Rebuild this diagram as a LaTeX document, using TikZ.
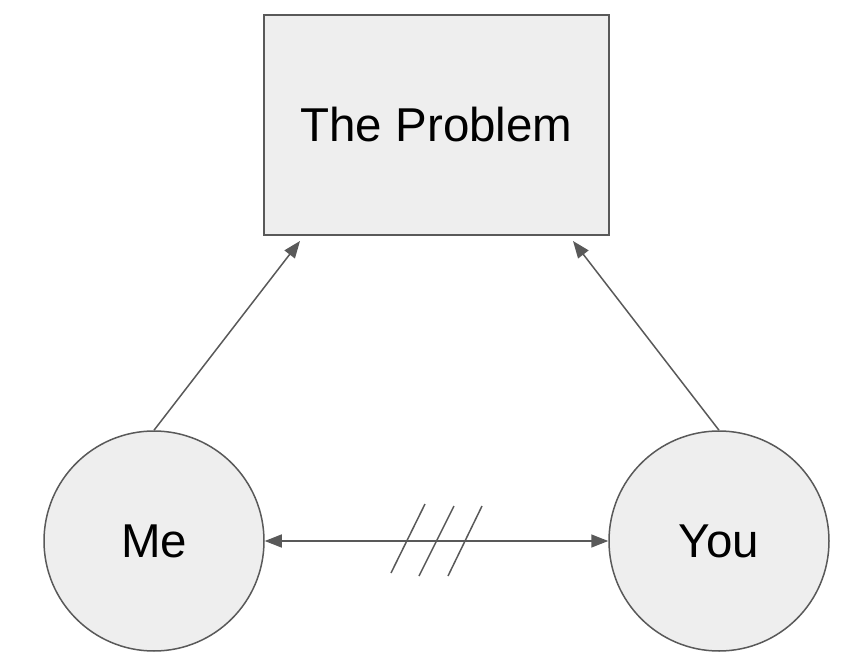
\documentclass[tikz,border=0pt]{standalone}
\usepackage{fontspec}
\setmainfont{Liberation Sans}
\usetikzlibrary{arrows.meta}
\definecolor{boxfill}{HTML}{EEEEEE}
\definecolor{edge}{HTML}{595959}
\begin{document}
\begin{tikzpicture}[x=1pt,y=-1pt,
  shapebox/.style={draw=edge,fill=boxfill,line width=1.5pt,inner sep=0pt},
  conn/.style={draw=edge,line width=1.5pt,-{Triangle[length=17pt,width=13pt]}},
  slash/.style={draw=edge,line width=1.5pt}]
\useasboundingbox (0,0) rectangle (849,669);
\node[shapebox,minimum width=345pt,minimum height=220pt,font=\fontsize{47.5}{56}\selectfont] (prob) at (436.5,125) {The Problem};
\node[shapebox,circle,minimum size=220pt,font=\fontsize{47.5}{56}\selectfont] (me) at (154,541) {Me};
\node[shapebox,circle,minimum size=220pt,font=\fontsize{47.5}{56}\selectfont] (you) at (719,541) {You};
\coordinate (p1) at (300,241);
\coordinate (p2) at (573,241);
\draw[conn] (me.north) -- (p1);
\draw[conn] (you.north) -- (p2);
\draw[conn,{Triangle[length=17pt,width=13pt]}-{Triangle[length=17pt,width=13pt]}] (me.east) -- (you.west);
\coordinate (s1a) at (391,573); \coordinate (s1b) at (425,504);
\coordinate (s2a) at (419,576); \coordinate (s2b) at (454,506);
\coordinate (s3a) at (448,576); \coordinate (s3b) at (482,506);
\draw[slash] (s1a) -- (s1b);
\draw[slash] (s2a) -- (s2b);
\draw[slash] (s3a) -- (s3b);
\end{tikzpicture}
\end{document}
